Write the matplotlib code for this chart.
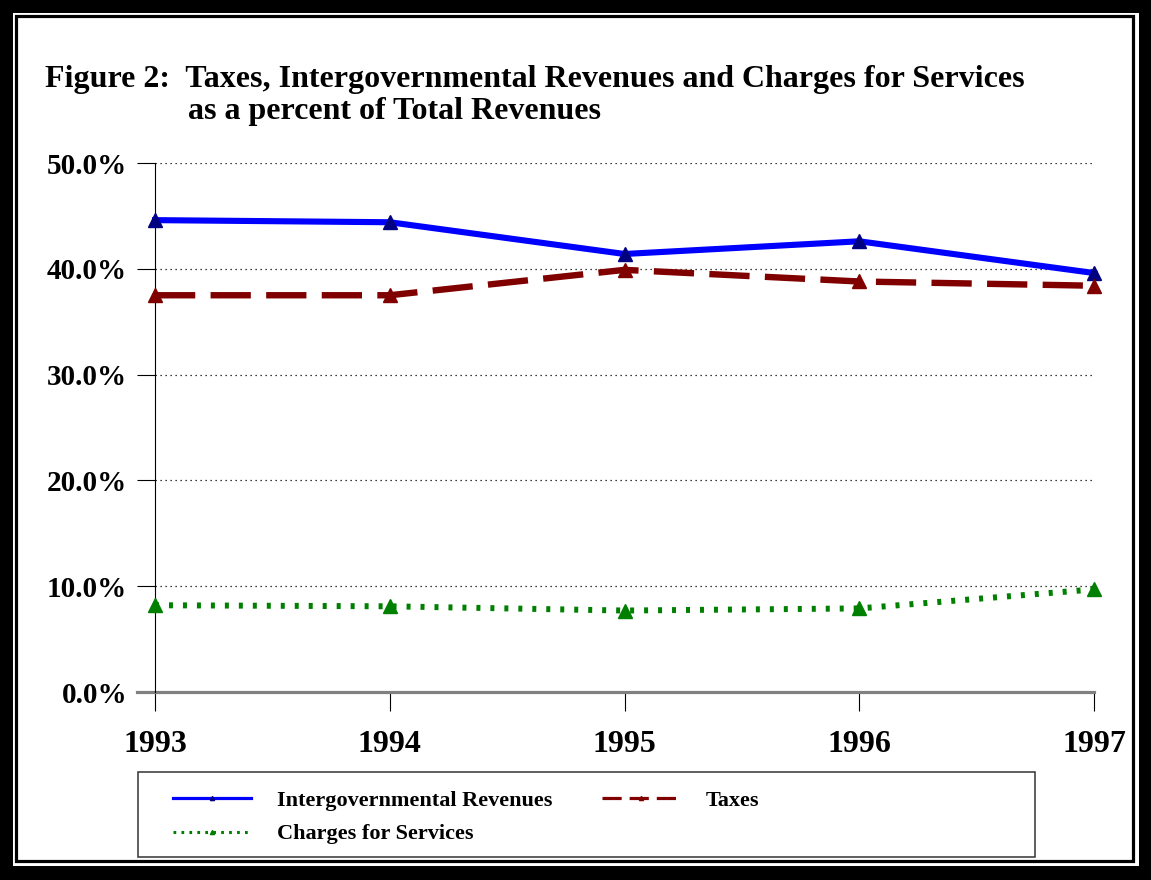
import matplotlib
matplotlib.use("Agg")
from matplotlib import pyplot as plt
from matplotlib.lines import Line2D
from matplotlib.patches import Rectangle
from matplotlib.ticker import FuncFormatter

plt.rcParams['font.family'] = ['Liberation Serif', 'DejaVu Serif']
plt.rcParams['font.weight'] = 'bold'

years = [1993, 1994, 1995, 1996, 1997]
intergov = [44.6, 44.4, 41.4, 42.6, 39.6]
taxes = [37.5, 37.5, 39.9, 38.8, 38.4]
charges = [8.2, 8.1, 7.7, 7.9, 9.7]
yticks = [0, 10, 20, 30, 40, 50]

W, H = 1151, 880
fig = plt.figure(figsize=(W / 100, H / 100), dpi=100)
fig.patch.set_facecolor('black')


def fx(px):
    return px / W


def fy(py):
    return 1 - py / H


# double frame around the chart
fig.add_artist(Rectangle((fx(13), fy(866)), fx(1139 - 13), (866 - 13) / H,
                         transform=fig.transFigure, facecolor='white', edgecolor='none', zorder=0))
fig.add_artist(Rectangle((fx(15.5), fy(860.5)), fx(1133 - 15.5), (860.5 - 16.5) / H,
                         transform=fig.transFigure, facecolor='white', edgecolor='black',
                         linewidth=2.3, zorder=0))

ax = fig.add_axes([fx(155), fy(692), fx(1094 - 155), (692 - 163) / H])
ax.set_facecolor('none')

ax.plot(years, intergov, color='#0000FF', lw=4.4, marker='^', ms=10.5,
        mfc='#000080', mec='#000080', clip_on=False, zorder=4)
ax.plot(years, taxes, color='#800000', lw=4.6, linestyle=(0, (6.3, 2.4)), dash_capstyle='butt',
        marker='^', ms=10.5, mfc='#800000', mec='#800000', clip_on=False, zorder=4)
ax.plot(years, charges, color='#008000', lw=4.3, linestyle=(0, (0.67, 1.67)), dash_capstyle='butt',
        marker='^', ms=10.5, mfc='#008000', mec='#008000', clip_on=False, zorder=4)

ax.set_xlim(1993, 1997)
ax.set_ylim(0, 50)
ax.set_xticks(years)
ax.set_yticks(yticks)
ax.yaxis.set_major_formatter(FuncFormatter(lambda v, p: f"{v:.1f}%"))

for y in yticks[1:]:
    ax.axhline(y, color='black', lw=0.9, linestyle=(0, (1, 3)), zorder=1)
ax.plot([-18 / 939, 1], [0, 0], transform=ax.get_yaxis_transform(), color='#808080',
        lw=2.3, clip_on=False, zorder=2)

for s in ['top', 'right', 'bottom']:
    ax.spines[s].set_visible(False)
ax.spines['left'].set_linewidth(0.8)

ax.tick_params(axis='y', direction='out', length=13, width=0.8, pad=7, labelsize=21)
ax.tick_params(axis='x', direction='out', length=14, width=0.8, pad=13, labelsize=23)
for lab in ax.get_xticklabels() + ax.get_yticklabels():
    lab.set_fontweight('bold')

fig.text(fx(45), fy(79), "Figure 2:  Taxes, Intergovernmental Revenues and Charges for Services",
         fontsize=23, fontweight='bold', va='center', ha='left')
fig.text(fx(188), fy(111), "as a percent of Total Revenues",
         fontsize=23, fontweight='bold', va='center', ha='left')

# legend box
fig.add_artist(Rectangle((fx(138), fy(857)), fx(1035 - 138), (857 - 772) / H,
                         transform=fig.transFigure, facecolor='white', edgecolor='#333333',
                         linewidth=1.1, zorder=1))
handles = [
    Line2D([], [], color='#0000FF', lw=2.3, marker='^', ms=3, mfc='#000080', mec='#000080'),
    Line2D([], [], color='#008000', lw=2.2, linestyle=(0, (0.9, 1.7)), dash_capstyle='butt',
           marker='^', ms=3, mfc='#008000', mec='#008000'),
    Line2D([], [], color='#800000', lw=2.3, linestyle=(0, (6, 2.5)), marker='^', ms=3,
           mfc='#800000', mec='#800000'),
]
labels = ["Intergovernmental Revenues", "Charges for Services", "Taxes"]
leg = fig.legend(handles, labels, loc='upper left', bbox_to_anchor=(fx(173), fy(790)),
                 ncol=2, frameon=False, borderpad=0, borderaxespad=0,
                 handlelength=3.5, handletextpad=1.2, columnspacing=2.2, labelspacing=0.6,
                 prop={'size': 16, 'weight': 'bold', 'family': 'Liberation Serif'})
leg.set_zorder(5)

fig.savefig("out.png", dpi=100, facecolor=fig.get_facecolor())
